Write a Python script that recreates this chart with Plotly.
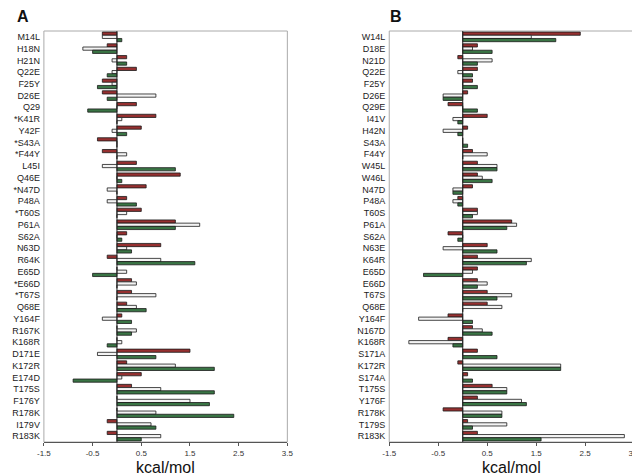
import plotly.graph_objects as go

# ---------------- Panel A data ----------------
cats_a = ["M14L", "H18N", "H21N", "Q22E", "F25Y", "D26E", "Q29", "*K41R", "Y42F", "*S43A",
          "*F44Y", "L45I", "Q46E", "*N47D", "P48A", "*T60S", "P61A", "S62A", "N63D", "R64K",
          "E65D", "*E66D", "*T67S", "Q68E", "Y164F", "R167K", "K168R", "D171E", "K172R", "E174D",
          "T175S", "F176Y", "R178K", "I179V", "R183K"]
red_a = [-0.3, -0.2, 0.2, 0.4, -0.3, -0.3, 0.4, 0.8, 0.5, -0.4,
         -0.3, 0.4, 1.3, 0.6, 0.2, 0.5, 1.2, 0.2, 0.9, -0.2,
         0.0, 0.3, 0.3, 0.2, 0.1, 0.0, 0.0, 1.5, 0.2, 0.5,
         0.3, 0.0, 0.0, -0.2, -0.2]
white_a = [-0.3, -0.7, -0.1, -0.1, -0.1, 0.8, 0.0, 0.1, -0.1, 0.0,
           0.2, -0.3, 0.0, -0.2, -0.2, 0.2, 1.7, 0.0, 0.2, 0.9,
           0.2, 0.4, 0.8, 0.4, -0.3, 0.4, 0.1, -0.4, 1.2, 0.1,
           0.9, 1.5, 0.8, 0.7, 0.9]
green_a = [0.1, -0.5, 0.2, -0.2, -0.4, -0.2, -0.6, 0.0, 0.2, 0.0,
           0.0, 1.2, 0.1, 0.0, 0.4, 0.0, 1.2, 0.1, 0.3, 1.6,
           -0.5, 0.0, 0.0, 0.6, 0.3, 0.3, -0.2, 0.8, 2.0, -0.9,
           2.0, 1.9, 2.4, 0.8, 0.5]

# ---------------- Panel B data ----------------
cats_b = ["W14L", "D18E", "N21D", "Q22E", "F25Y", "D26E", "Q29E", "I41V", "H42N", "S43A",
          "F44Y", "W45L", "W46L", "N47D", "P48A", "T60S", "P61A", "S62A", "N63E", "K64R",
          "E65D", "E66D", "T67S", "Q68E", "Y164F", "N167D", "K168R", "S171A", "K172R", "S174A",
          "T175S", "Y176F", "R178K", "T179S", "R183K"]
red_b = [2.4, 0.3, -0.1, 0.3, 0.2, 0.1, -0.3, 0.5, 0.1, 0.0,
         0.2, 0.3, 0.3, 0.2, -0.1, 0.3, 1.0, -0.3, 0.5, 0.3,
         0.3, 0.3, 0.5, 0.5, -0.3, 0.2, -0.3, 0.3, -0.1, 0.1,
         0.6, 0.3, -0.4, 0.1, 0.3]
white_b = [1.4, 0.2, 0.6, -0.1, 0.0, -0.4, 0.0, -0.2, -0.4, 0.0,
           0.5, 0.7, 0.4, -0.2, -0.2, 0.3, 1.1, 0.0, -0.4, 1.4,
           0.2, 0.5, 1.0, 0.8, -0.9, 0.4, -1.1, 0.0, 2.0, 0.0,
           0.9, 1.2, 0.8, 0.9, 3.3]
green_b = [1.9, 0.6, 0.3, 0.2, 0.3, -0.4, 0.3, -0.1, -0.1, 0.1,
           0.0, 0.7, 0.6, -0.2, -0.1, 0.2, 0.9, -0.1, 0.7, 1.3,
           -0.8, 0.3, 0.7, 0.0, 0.2, 0.6, -0.2, 0.7, 2.0, 0.2,
           0.9, 1.3, 0.8, 0.2, 1.6]

x_ticks = [-1.5, -0.5, 0.5, 1.5, 2.5, 3.5]

RED = "#963030"
WHITE = "#f4f4f4"
GREEN = "#3a7545"
EDGE = "#1a1a1a"

fig = go.Figure()
for cats, r, w, g, xa, ya in [(cats_a, red_a, white_a, green_a, "x", "y"),
                              (cats_b, red_b, white_b, green_b, "x2", "y2")]:
    for vals, col in [(r, RED), (w, WHITE), (g, GREEN)]:
        fig.add_trace(go.Bar(y=cats, x=vals, orientation="h", xaxis=xa, yaxis=ya,
                             marker=dict(color=col, line=dict(color=EDGE, width=0.8)),
                             showlegend=False, hoverinfo="skip"))

H = 475
ytop = (H - 23) / H
ybot = (H - 434) / H
dom_a = [29.5 / 640, 278 / 640]
dom_b = [382 / 640, 632 / 640]

xcommon = dict(range=[-1.5, 3.5], tickvals=x_ticks, ticktext=[str(v) for v in x_ticks],
               showgrid=False, zeroline=False, showline=True, linecolor="#555", linewidth=1,
               ticks="outside", ticklen=3, tickcolor="#555",
               tickfont=dict(family="Arial, Liberation Sans", size=8, color="#333"))
ycommon = dict(type="category", autorange="reversed", showgrid=False, zeroline=False,
               showline=False, ticks="", ticklabelstandoff=3, tickmode="linear", tick0=0, dtick=1,
               tickfont=dict(family="Arial, Liberation Sans", size=9, color="#222"))

fig.update_layout(
    width=640, height=475,
    margin=dict(l=0, r=0, t=0, b=0),
    paper_bgcolor="white", plot_bgcolor="white",
    barmode="group", bargap=0.18, bargroupgap=0.0,
    xaxis=dict(domain=dom_a, anchor="y", **xcommon),
    yaxis=dict(domain=[ybot, ytop], anchor="x", categoryorder="array", categoryarray=cats_a, **ycommon),
    xaxis2=dict(domain=dom_b, anchor="y2", **xcommon),
    yaxis2=dict(domain=[ybot, ytop], anchor="x2", categoryorder="array", categoryarray=cats_b, **ycommon),
)

# plot frames and zero lines
for dom, xr in [(dom_a, "x"), (dom_b, "x2")]:
    fig.add_shape(type="rect", xref="paper", yref="paper", x0=dom[0], x1=dom[1], y0=ybot, y1=ytop,
                  line=dict(color="#aaaaaa", width=1), layer="below")
    fig.add_shape(type="line", xref=xr, yref="paper", x0=0, x1=0, y0=ybot, y1=ytop,
                  line=dict(color="#222", width=1), layer="above")

# panel letters and axis titles
fig.add_annotation(text="<b>A</b>", xref="paper", yref="paper", x=0.0, y=1 - 9 / H,
                   xanchor="left", yanchor="middle", showarrow=False,
                   font=dict(family="Arial, Liberation Sans", size=16, color="#111"))
fig.add_annotation(text="<b>B</b>", xref="paper", yref="paper", x=381 / 640, y=1 - 9 / H,
                   xanchor="left", yanchor="middle", showarrow=False,
                   font=dict(family="Arial, Liberation Sans", size=16, color="#111"))
for dom in [dom_a, dom_b]:
    fig.add_annotation(text="kcal/mol", xref="paper", yref="paper", x=(dom[0] + dom[1]) / 2,
                       y=(H - 459) / H, xanchor="center", yanchor="middle", showarrow=False,
                       font=dict(family="Arial, Liberation Sans", size=16, color="#111"))

fig.write_html("out.html")
